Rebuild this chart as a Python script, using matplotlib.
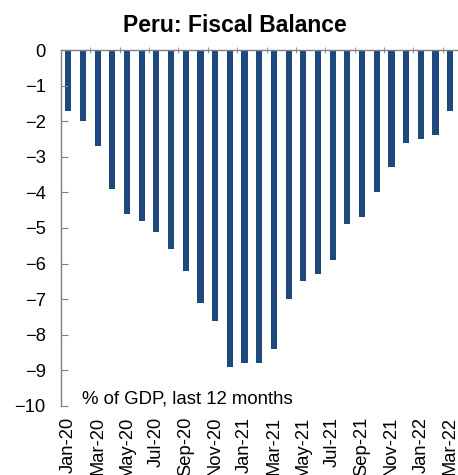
import numpy as np
import matplotlib
matplotlib.use("Agg")
import matplotlib.pyplot as plt

plt.rcParams['font.family'] = ['Liberation Sans', 'DejaVu Sans']

# monthly 12-month rolling fiscal balance, % of GDP
months = ['Jan-20', 'Feb-20', 'Mar-20', 'Apr-20', 'May-20', 'Jun-20', 'Jul-20',
          'Aug-20', 'Sep-20', 'Oct-20', 'Nov-20', 'Dec-20', 'Jan-21', 'Feb-21',
          'Mar-21', 'Apr-21', 'May-21', 'Jun-21', 'Jul-21', 'Aug-21', 'Sep-21',
          'Oct-21', 'Nov-21', 'Dec-21', 'Jan-22', 'Feb-22', 'Mar-22']
balance = [-1.7, -2.0, -2.7, -3.9, -4.6, -4.8, -5.1, -5.6, -6.2, -7.1, -7.6,
           -8.9, -8.8, -8.8, -8.4, -7.0, -6.5, -6.3, -5.9, -4.9, -4.7, -4.0,
           -3.3, -2.6, -2.5, -2.4, -1.7]

bar_color = '#1F497D'
axis_color = '#808080'

fig = plt.figure(figsize=(4.58, 4.75), dpi=100)
ax = fig.add_axes([0.133, 0.1453, 0.866, 0.7494])

x = np.arange(len(months))
ax.bar(x, balance, width=0.42, color=bar_color, linewidth=0)

ax.set_xlim(-0.5, len(months) - 0.5)
ax.set_ylim(-10, 0)
ax.set_yticks(np.arange(-10, 1, 1))

# labels every other month under the bars, tick marks on the zero line
ax.set_xticks(x[::2])
ax.set_xticklabels(months[::2], rotation=90, fontsize=13.2)
ax.set_xticks(x[1:-1:2] + 0.5, minor=True)
ax.tick_params(axis='x', which='major', length=0, pad=8)
ax.tick_params(axis='x', which='minor', bottom=False, top=True,
               direction='inout', length=5, color=axis_color)
ax.tick_params(axis='y', direction='in', length=5, color=axis_color,
               labelsize=13.2, pad=11)

for side in ['right', 'bottom']:
    ax.spines[side].set_visible(False)
for side in ['left', 'top']:
    ax.spines[side].set_color(axis_color)
    ax.spines[side].set_linewidth(1.0)

ax.text(0.053, 0.006, '% of GDP, last 12 months', transform=ax.transAxes,
        fontsize=13.4, ha='left', va='baseline')

fig.text(0.512, 0.9326, 'Peru: Fiscal Balance', fontsize=16.5,
         fontweight='bold', ha='center', va='baseline')

fig.savefig('out.png', dpi=100)
